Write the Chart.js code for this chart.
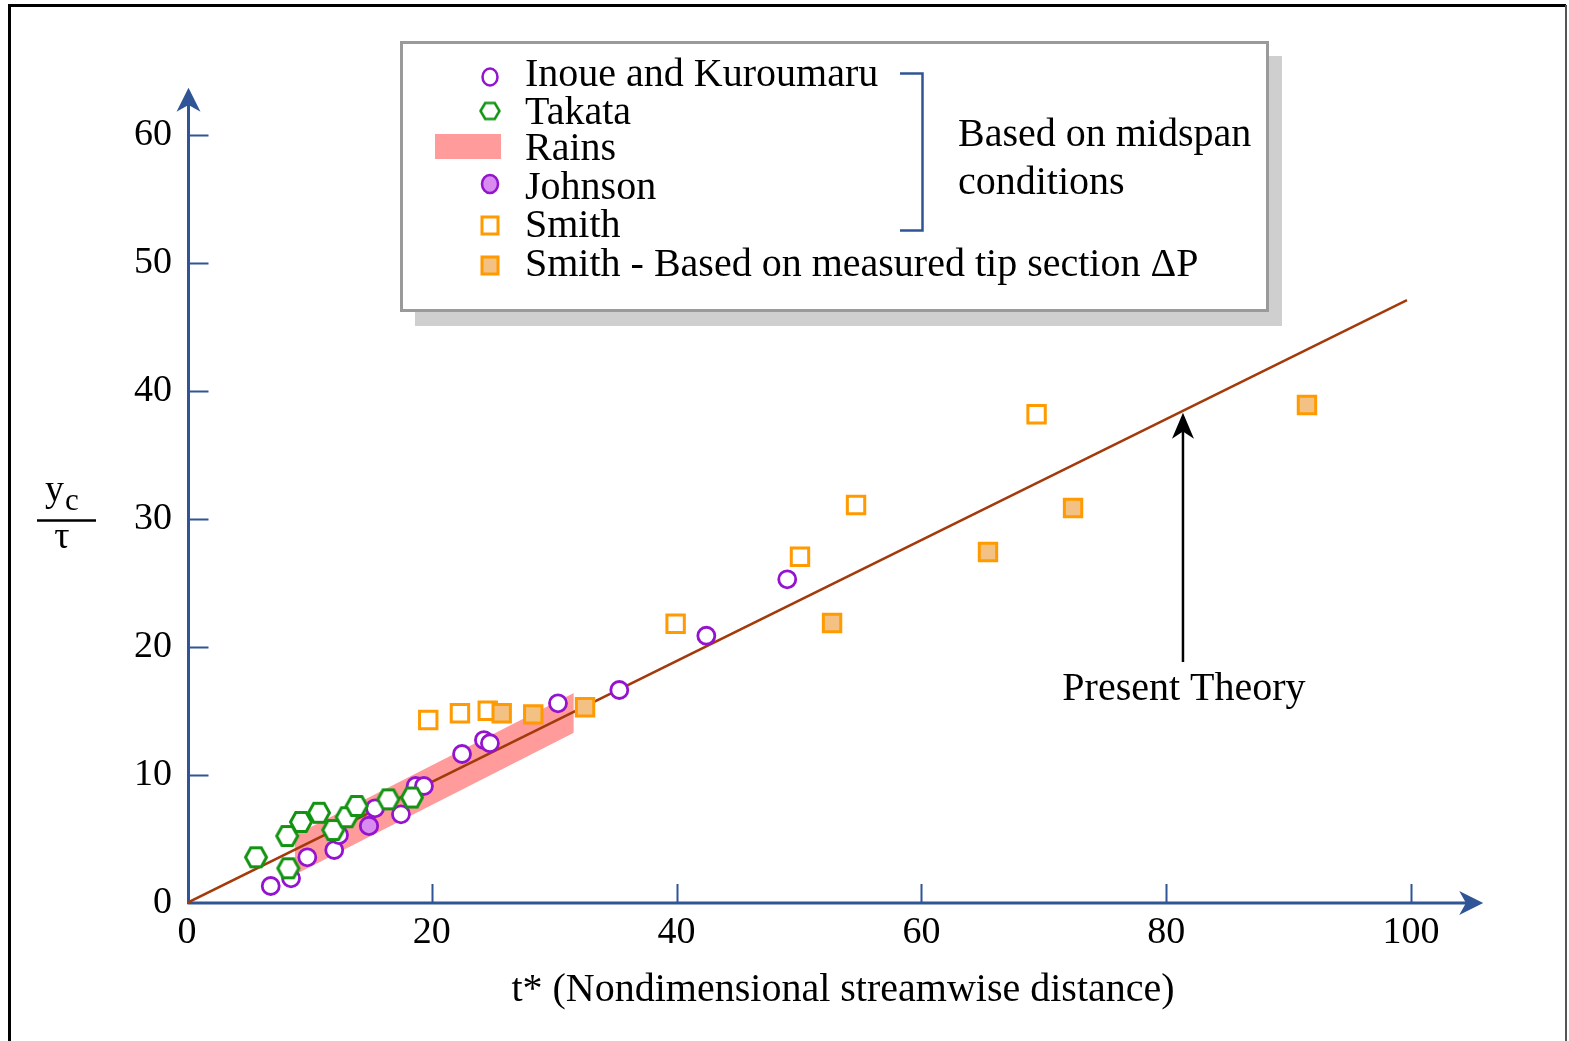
<!DOCTYPE html>
<html lang="en">
<head>
  <meta charset="UTF-8">
  <title>Tip vortex location vs. streamwise distance</title>
  <script src="https://cdn.jsdelivr.net/npm/chart.js"></script>
  <style>
    html, body { margin: 0; padding: 0; background: #fff; }
    canvas { display: block; }
  </style>
</head>
<body>
  <canvas id="vortexChart" width="1569" height="1041"></canvas>

  <script>
    // --- data ---------------------------------------------------------
    const inoueX   = [6.84, 8.5, 9.83, 12.03, 12.42, 15.36, 17.48, 18.68, 19.36, 22.47, 24.26, 24.75, 30.31, 35.32, 42.43, 49.04];
    const inoueY   = [1.33, 1.93, 3.57, 4.14, 5.31, 7.4, 6.93, 9.14, 9.14, 11.64, 12.73, 12.48, 15.6, 16.64, 20.88, 25.29];

    const takataX  = [5.64, 8.28, 8.19, 9.31, 10.78, 11.95, 13.05, 13.86, 16.45, 18.38];
    const takataY  = [3.57, 2.71, 5.23, 6.33, 7.05, 5.7, 6.7, 7.58, 8.1, 8.24];

    const johnsonX = [14.87];
    const johnsonY = [6.02];

    const smithX   = [19.71, 22.3, 24.57, 39.92, 50.08, 54.66, 69.41];
    const smithY   = [14.3, 14.82, 15.02, 21.82, 27.05, 31.09, 38.18];

    const smithTipX = [25.71, 28.29, 32.52, 52.7, 65.44, 72.39, 91.5];
    const smithTipY = [14.82, 14.74, 15.29, 21.88, 27.42, 30.86, 38.91];

    // Rains data shown as a band (upper / lower edge)
    const rainsX     = [8.8, 31.6];
    const rainsUpper = [5.3, 16.4];
    const rainsLower = [2.2, 13.3];

    // present theory line
    const theoryX = [0, 99.67];
    const theoryY = [0, 47.1];

    const xTicks = [0, 20, 40, 60, 80, 100];
    const yTicks = [0, 10, 20, 30, 40, 50, 60];

    const legendLabels = [
      'Inoue and Kuroumaru',
      'Takata',
      'Rains',
      'Johnson',
      'Smith',
      'Smith - Based on measured tip section \u0394P'
    ];

    // --- styles -------------------------------------------------------
    const SERIF = '"Liberation Serif", "Times New Roman", serif';
    const AXIS_BLUE = '#2f5597';
    const PURPLE = '#9413cf';
    const PURPLE_FILL = '#d88cf0';
    const GREEN = '#129412';
    const ORANGE = '#ff9a00';
    const ORANGE_FILL = '#f2c183';
    const RAINS = '#ff9b9b';
    const THEORY = '#a33a0b';

    const pts = (xs, ys) => xs.map((x, i) => ({ x: x, y: ys[i] }));

    // hexagon marker as an image (pointy left/right)
    function hexagonImage(w, h, stroke, lw) {
      const c = document.createElement('canvas');
      c.width = Math.ceil(w + lw + 2);
      c.height = Math.ceil(h + lw + 2);
      const g = c.getContext('2d');
      const cx = c.width / 2, cy = c.height / 2;
      g.beginPath();
      g.moveTo(cx - w / 2, cy);
      g.lineTo(cx - w / 4, cy - h / 2);
      g.lineTo(cx + w / 4, cy - h / 2);
      g.lineTo(cx + w / 2, cy);
      g.lineTo(cx + w / 4, cy + h / 2);
      g.lineTo(cx - w / 4, cy + h / 2);
      g.closePath();
      g.fillStyle = '#fff';
      g.fill();
      g.strokeStyle = stroke;
      g.lineWidth = lw;
      g.stroke();
      return c;
    }
    const hexMarker = hexagonImage(21, 19, GREEN, 3);
    const hexLegend = hexagonImage(19, 16, GREEN, 2.5);

    // filled arrow head, dir = unit vector toward the tip
    function arrowHead(ctx, tx, ty, dx, dy, len, half, color) {
      const px = -dy, py = dx;
      const bx = tx - dx * len, by = ty - dy * len;
      const nx = tx - dx * len * 0.72, ny = ty - dy * len * 0.72;
      ctx.beginPath();
      ctx.moveTo(tx, ty);
      ctx.lineTo(bx + px * half, by + py * half);
      ctx.lineTo(nx, ny);
      ctx.lineTo(bx - px * half, by - py * half);
      ctx.closePath();
      ctx.fillStyle = color;
      ctx.fill();
    }

    // page frame + white background
    const framePlugin = {
      id: 'frame',
      beforeDraw(chart) {
        const ctx = chart.ctx;
        ctx.save();
        ctx.fillStyle = '#fff';
        ctx.fillRect(0, 0, chart.width, chart.height);
        ctx.strokeStyle = '#000';
        ctx.lineWidth = 3;
        ctx.beginPath();
        ctx.moveTo(9.5, chart.height);
        ctx.lineTo(9.5, 5.5);
        ctx.lineTo(1566, 5.5);
        ctx.stroke();
        ctx.strokeStyle = '#555';
        ctx.lineWidth = 2;
        ctx.beginPath();
        ctx.moveTo(1566, 5);
        ctx.lineTo(1566, chart.height);
        ctx.stroke();
        ctx.restore();
      }
    };

    // axes with arrow heads and inward tick marks
    const axesPlugin = {
      id: 'arrowAxes',
      beforeDatasetsDraw(chart) {
        const { ctx, scales: { x, y } } = chart;
        const x0 = x.getPixelForValue(0) + 1.5;
        const y0 = y.getPixelForValue(0);
        const xEnd = x.getPixelForValue(105.9);
        const yEnd = y.getPixelForValue(63.7);
        ctx.save();
        ctx.strokeStyle = AXIS_BLUE;
        ctx.lineWidth = 3;
        ctx.beginPath();
        ctx.moveTo(x0, y0 + 1);
        ctx.lineTo(x0, yEnd + 12);
        ctx.moveTo(x0 - 1, y0);
        ctx.lineTo(xEnd - 12, y0);
        ctx.stroke();
        arrowHead(ctx, x0, yEnd, 0, -1, 24, 12, AXIS_BLUE);
        arrowHead(ctx, xEnd, y0, 1, 0, 24, 12, AXIS_BLUE);

        ctx.lineWidth = 2;
        ctx.beginPath();
        yTicks.forEach(v => {
          if (v === 0) return;
          const py = Math.round(y.getPixelForValue(v)) + 0.5;
          ctx.moveTo(x0, py);
          ctx.lineTo(x0 + 20, py);
        });
        xTicks.forEach(v => {
          if (v === 0) return;
          const px = Math.round(x.getPixelForValue(v)) + 0.5;
          ctx.moveTo(px, y0);
          ctx.lineTo(px, y0 - 19);
        });
        ctx.stroke();
        ctx.restore();
      }
    };

    // titles, legend box and "Present Theory" annotation
    const annotatePlugin = {
      id: 'annotate',
      afterDraw(chart) {
        const { ctx, scales: { x, y } } = chart;
        ctx.save();
        ctx.fillStyle = '#000';
        ctx.textBaseline = 'alphabetic';

        // x title
        ctx.font = '40px ' + SERIF;
        ctx.textAlign = 'center';
        ctx.fillText('t* (Nondimensional streamwise distance)', 843, 1001);

        // y title as a fraction  y_c / tau
        ctx.textAlign = 'left';
        ctx.font = '38px ' + SERIF;
        ctx.fillText('y', 45, 501);
        ctx.font = '31px ' + SERIF;
        ctx.fillText('c', 65, 510);
        ctx.strokeStyle = '#000';
        ctx.lineWidth = 2.5;
        ctx.beginPath();
        ctx.moveTo(37, 520.5);
        ctx.lineTo(96, 520.5);
        ctx.stroke();
        ctx.font = '38px ' + SERIF;
        ctx.textAlign = 'center';
        ctx.fillText('\u03c4', 62, 548);

        // present theory arrow
        const ax = x.getPixelForValue(81.37);
        const tipY = y.getPixelForValue(38.3);
        const baseY = y.getPixelForValue(18.83);
        ctx.strokeStyle = '#000';
        ctx.lineWidth = 2.5;
        ctx.beginPath();
        ctx.moveTo(ax, baseY);
        ctx.lineTo(ax, tipY + 15);
        ctx.stroke();
        arrowHead(ctx, ax, tipY, 0, -1, 26, 11, '#000');
        ctx.font = '40px ' + SERIF;
        ctx.textAlign = 'center';
        ctx.fillText('Present Theory', ax + 1, 700);

        // legend box with drop shadow
        ctx.fillStyle = '#cfcfcf';
        ctx.fillRect(415, 56, 867, 270);
        ctx.fillStyle = '#fff';
        ctx.fillRect(401, 42, 867, 269);
        ctx.strokeStyle = '#9a9a9a';
        ctx.lineWidth = 3;
        ctx.strokeRect(401.5, 42.5, 866, 268);

        const mx = 490;
        const rowsY = [77, 111, 146, 184, 225, 265];
        const textBase = [86, 124, 160, 199, 237, 276];

        // markers
        ctx.lineWidth = 2.5;
        ctx.strokeStyle = PURPLE;
        ctx.fillStyle = '#fff';
        ctx.beginPath();
        ctx.ellipse(mx, rowsY[0], 7.5, 8.5, 0, 0, Math.PI * 2);
        ctx.fill();
        ctx.stroke();

        ctx.drawImage(hexLegend, mx - hexLegend.width / 2, rowsY[1] - hexLegend.height / 2);

        ctx.fillStyle = RAINS;
        ctx.fillRect(435, 134, 66, 25);

        ctx.fillStyle = PURPLE_FILL;
        ctx.strokeStyle = PURPLE;
        ctx.beginPath();
        ctx.ellipse(mx, rowsY[3], 8, 9, 0, 0, Math.PI * 2);
        ctx.fill();
        ctx.stroke();

        ctx.lineWidth = 3;
        ctx.strokeStyle = ORANGE;
        ctx.fillStyle = '#fff';
        ctx.fillRect(mx - 8, rowsY[4] - 8, 16, 17);
        ctx.strokeRect(mx - 8, rowsY[4] - 8, 16, 17);
        ctx.fillStyle = ORANGE_FILL;
        ctx.fillRect(mx - 8, rowsY[5] - 8, 16, 17);
        ctx.strokeRect(mx - 8, rowsY[5] - 8, 16, 17);

        // labels
        ctx.fillStyle = '#000';
        ctx.textAlign = 'left';
        ctx.font = '40px ' + SERIF;
        legendLabels.forEach((t, i) => ctx.fillText(t, 525, textBase[i]));

        // bracket grouping the midspan-based sets
        ctx.strokeStyle = AXIS_BLUE;
        ctx.lineWidth = 2.5;
        ctx.beginPath();
        ctx.moveTo(900, 73.5);
        ctx.lineTo(922.5, 73.5);
        ctx.lineTo(922.5, 230.5);
        ctx.lineTo(900, 230.5);
        ctx.stroke();
        ctx.fillText('Based on midspan', 958, 146);
        ctx.fillText('conditions', 958, 194);

        ctx.restore();
      }
    };

    const tickFont = { family: SERIF, size: 38 };

    new Chart(document.getElementById('vortexChart'), {
      type: 'scatter',
      data: {
        datasets: [
          {
            label: 'Takata',
            data: pts(takataX, takataY),
            pointStyle: hexMarker,
            order: 1
          },
          {
            label: 'Johnson',
            data: pts(johnsonX, johnsonY),
            pointStyle: 'circle',
            radius: 8.7,
            borderWidth: 2.8,
            borderColor: PURPLE,
            backgroundColor: PURPLE_FILL,
            order: 2
          },
          {
            label: 'Smith - tip section',
            data: pts(smithTipX, smithTipY),
            pointStyle: 'rect',
            radius: 12.3,
            borderWidth: 3,
            borderColor: ORANGE,
            backgroundColor: ORANGE_FILL,
            order: 3
          },
          {
            label: 'Smith',
            data: pts(smithX, smithY),
            pointStyle: 'rect',
            radius: 12.3,
            borderWidth: 3,
            borderColor: ORANGE,
            backgroundColor: '#fff',
            order: 4
          },
          {
            label: 'Inoue and Kuroumaru',
            data: pts(inoueX, inoueY),
            pointStyle: 'circle',
            radius: 8.5,
            borderWidth: 2.8,
            borderColor: PURPLE,
            backgroundColor: '#fff',
            order: 5
          },
          {
            type: 'line',
            label: 'Present Theory',
            data: pts(theoryX, theoryY),
            borderColor: THEORY,
            borderWidth: 2.5,
            pointRadius: 0,
            fill: false,
            order: 6
          },
          {
            type: 'line',
            label: 'Rains upper',
            data: pts(rainsX, rainsUpper),
            borderWidth: 0,
            borderColor: 'rgba(0,0,0,0)',
            backgroundColor: RAINS,
            pointRadius: 0,
            fill: '+1',
            order: 7
          },
          {
            type: 'line',
            label: 'Rains lower',
            data: pts(rainsX, rainsLower),
            borderWidth: 0,
            borderColor: 'rgba(0,0,0,0)',
            pointRadius: 0,
            fill: false,
            order: 8
          }
        ]
      },
      options: {
        responsive: false,
        animation: false,
        events: [],
        layout: { padding: { left: 0, right: 158, top: 135, bottom: 0 } },
        plugins: {
          legend: { display: false },
          tooltip: { enabled: false }
        },
        scales: {
          x: {
            type: 'linear',
            min: 0,
            max: 100,
            grid: { display: false, drawTicks: false },
            border: { display: false },
            ticks: { stepSize: 20, color: '#000', font: tickFont, padding: 7, maxRotation: 0 },
            afterFit: s => { s.height = 138; }
          },
          y: {
            type: 'linear',
            min: 0,
            max: 60,
            grid: { display: false, drawTicks: false },
            border: { display: false },
            ticks: { stepSize: 10, color: '#000', font: tickFont, padding: 15 },
            afterFit: s => { s.width = 187; }
          }
        }
      },
      plugins: [framePlugin, axesPlugin, annotatePlugin]
    });
  </script>
</body>
</html>
